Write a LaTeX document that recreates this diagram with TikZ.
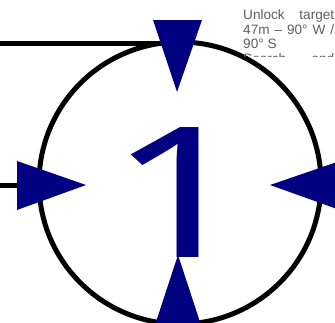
\documentclass[tikz,border=0pt]{standalone}
\usepackage{fontspec}
\setmainfont{Liberation Sans}
\newfontfamily\digitfont{Noto Sans}
\definecolor{navy}{HTML}{000080}
\definecolor{notegray}{HTML}{5E5E5E}
\begin{document}
\begin{tikzpicture}[
    x=1pt,y=-1pt,
    ring/.style={draw=black,line width=5pt,circle,minimum size=282pt,inner sep=0pt},
    wire/.style={draw=black,line width=5pt},
    pin/.style={fill=navy},
    note/.style={text=notegray,font=\fontsize{13.6}{14.5}\selectfont,
      text width=91pt,align=justify,inner sep=0pt,anchor=north west}
  ]
  \useasboundingbox (0,0) rectangle (335,322);
  \node[ring] (ring) at (180,183) {};
  \node[text=navy,font=\digitfont\fontsize{182}{182}\selectfont,
    inner sep=0pt,anchor=base west] (num) at (108,257) {\scalebox{1.4}[1]{1}};
  % wires into the ring
  \coordinate (wtop) at (0,43);
  \coordinate (wleft) at (0,185);
  \draw[wire] (wtop) -- (wtop -| ring.north);
  \draw[wire] (wleft) -- (wleft -| ring.west);
  % pins on the ring
  \fill[pin] (153,20) -- (202,20) -- (177,92) -- cycle;
  \fill[pin] (17,161) -- (17,210) -- (86,185) -- cycle;
  \fill[pin] (340,161) -- (340,210) -- (270,185) -- cycle;
  \fill[pin] (154,328) -- (202,328) -- (178,255) -- cycle;
  % note, cut off at the edge
  \begin{scope}
    \clip (230,0) rectangle (335,56);
    \node[note] (lock) at (243,9.5) {Unlock target 47m – 90° W /
      90° S\\Search and sweep};
  \end{scope}
\end{tikzpicture}
\end{document}
